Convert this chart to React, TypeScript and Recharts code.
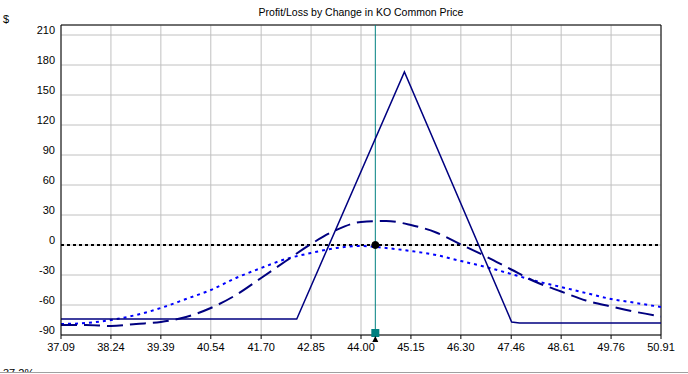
import React from "react";
import {
  ComposedChart,
  Line,
  XAxis,
  YAxis,
  CartesianGrid,
  ReferenceLine,
  ReferenceDot,
} from "recharts";

const xTicks = [37.09, 38.24, 39.39, 40.54, 41.7, 42.85, 44.0, 45.15, 46.3, 47.46, 48.61, 49.76, 50.91];
const yTicks = [-90, -60, -30, 0, 30, 60, 90, 120, 150, 180, 210];

const prices = [
  37.09, 37.67, 38.24, 38.82, 39.39, 39.97, 40.54, 41.12, 41.7, 42.27, 42.85, 43.43, 44.0,
  44.58, 45.15, 45.73, 46.3, 46.88, 47.46, 48.03, 48.61, 49.18, 49.76, 50.34, 50.91,
];
const dashedValues = [
  -80, -80, -81, -79, -77, -72, -63, -50, -33, -16, 1, 15, 23, 24, 20, 12.5, 0.5, -11.5, -24.5,
  -37, -46.5, -55.5, -61.5, -67, -71.5,
];
const dottedValues = [
  -79, -78, -75, -70, -63, -54, -45, -33, -23, -14, -8, -3, -1, -3, -6, -10, -16, -22, -29, -36,
  -42, -48, -54, -58, -62,
];

const expiryPrices = [37.09, 42.52, 45.0, 47.47, 47.65, 50.91];
const expiryValues = [-74, -74, 173, -77, -78, -78];

const currentPrice = 44.33;
const currentPnl = 0;
const squareLevel = -88;
const triangleLevel = -94;

const curveData = prices.map((p, i) => ({ price: p, dashed: dashedValues[i], dotted: dottedValues[i] }));
const expiryData = expiryPrices.map((p, i) => ({ price: p, expiry: expiryValues[i] }));

const FONT = "'Liberation Sans', Arial, sans-serif";

const YTick = (props: any) => {
  const { x, y, payload } = props;
  return (
    <text x={x} y={y - 5} dy="0.355em" textAnchor="end" fontSize={11} fontFamily={FONT} fill="#000">
      {payload.value}
    </text>
  );
};

const XTick = (props: any) => {
  const { x, y, payload } = props;
  return (
    <text x={x} y={y} dy="0.71em" textAnchor="middle" fontSize={11} fontFamily={FONT} fill="#000">
      {Number(payload.value).toFixed(2)}
    </text>
  );
};

export default function App() {
  return (
    <div style={{ position: "absolute", left: 0, top: 0, width: 688, height: 374, background: "#fff" }}>
      <ComposedChart
        width={688}
        height={374}
        margin={{ top: 25, right: 27, bottom: 9, left: 11 }}
      >
        <CartesianGrid stroke="#c0c0c0" strokeWidth={1} />
        <XAxis
          dataKey="price"
          type="number"
          domain={[37.09, 50.91]}
          ticks={xTicks}
          allowDataOverflow
          height={30}
          axisLine={{ stroke: "#000" }}
          tickLine={{ stroke: "#000" }}
          tickSize={4}
          tickMargin={4}
          tick={<XTick />}
        />
        <YAxis
          type="number"
          domain={[-90, 220]}
          ticks={yTicks}
          allowDataOverflow
          width={50}
          axisLine={{ stroke: "#000" }}
          tickLine={false}
          tickSize={0}
          tickMargin={6}
          tick={<YTick />}
        />
        <ReferenceLine y={220} stroke="#000" strokeWidth={1} />
        <ReferenceLine x={50.91} stroke="#000" strokeWidth={1} />
        <ReferenceLine y={0} stroke="#000" strokeWidth={2} strokeDasharray="3 3" />
        <ReferenceLine x={currentPrice} stroke="#008080" strokeWidth={1} />
        <Line
          data={curveData}
          dataKey="dotted"
          type="monotone"
          stroke="#0000ff"
          strokeWidth={2}
          strokeDasharray="3 4"
          dot={false}
          isAnimationActive={false}
        />
        <Line
          data={curveData}
          dataKey="dashed"
          type="monotone"
          stroke="#000080"
          strokeWidth={2}
          strokeDasharray="16 7"
          dot={false}
          isAnimationActive={false}
        />
        <Line
          data={expiryData}
          dataKey="expiry"
          type="linear"
          stroke="#000080"
          strokeWidth={1.5}
          dot={false}
          isAnimationActive={false}
        />
        <ReferenceDot x={currentPrice} y={currentPnl} r={3.5} fill="#000" stroke="#000" />
        <ReferenceDot
          x={currentPrice}
          y={squareLevel}
          ifOverflow="visible"
          shape={(p: any) => <rect x={p.cx - 4} y={p.cy - 4} width={8} height={8} fill="#008080" />}
        />
        <ReferenceDot
          x={currentPrice}
          y={triangleLevel}
          ifOverflow="visible"
          shape={(p: any) => (
            <polygon
              points={`${p.cx},${p.cy - 3} ${p.cx - 3},${p.cy + 3} ${p.cx + 3},${p.cy + 3}`}
              fill="#000"
            />
          )}
        />
      </ComposedChart>
      <svg
        width={688}
        height={374}
        style={{ position: "absolute", left: 0, top: 0, pointerEvents: "none" }}
      >
        <text x={361} y={16} textAnchor="middle" fontSize={10.5} fontFamily={FONT} fill="#000">
          Profit/Loss by Change in KO Common Price
        </text>
        <text x={3} y={23} fontSize={11} fontFamily={FONT} fill="#000">
          $
        </text>
        <text x={3} y={377} fontSize={11} fontFamily={FONT} fill="#000">
          37.2%
        </text>
        <rect x={0} y={372} width={688} height={2} fill="#fff" />
        <line x1={0} y1={372.5} x2={688} y2={372.5} stroke="#a0a0a0" strokeWidth={1} />
      </svg>
    </div>
  );
}
